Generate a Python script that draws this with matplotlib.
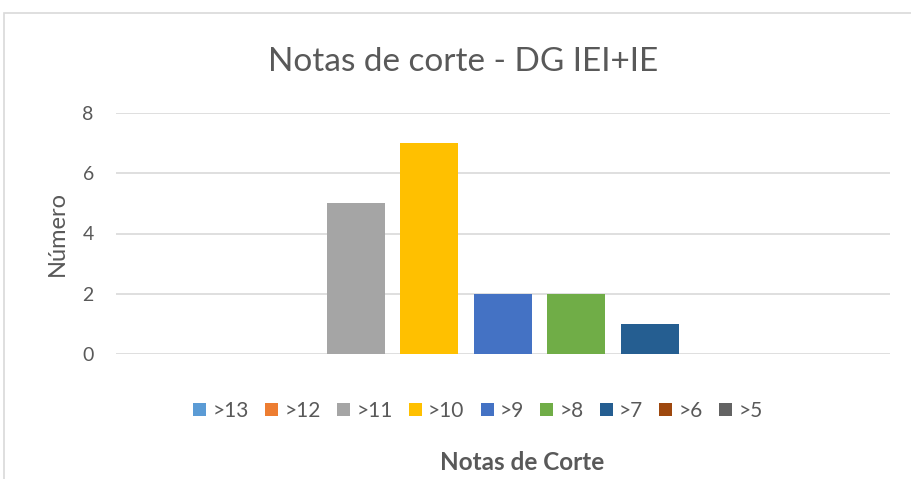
import matplotlib
matplotlib.use("Agg")
import matplotlib.pyplot as plt
from matplotlib.patches import Rectangle

series = [">13", ">12", ">11", ">10", ">9", ">8", ">7", ">6", ">5"]
values = [0, 0, 5, 7, 2, 2, 1, 0, 0]
colors = ["#5B9BD5", "#ED7D31", "#A5A5A5", "#FFC000", "#4472C4",
          "#70AD47", "#255E91", "#9E480E", "#636363"]
yticks = [0, 2, 4, 6, 8]

plt.rcParams['font.family'] = ['Lato', 'DejaVu Sans']
TXT = "#595959"

W, H = 912, 479
fig = plt.figure(figsize=(W / 100, H / 100), dpi=100)

# chart border
fig.patches.append(Rectangle((4 / W, -0.1), 1.1, 1 - 13 / H + 0.1,
                             transform=fig.transFigure, fill=False,
                             edgecolor="#D9D9D9", linewidth=1.2))

ax = fig.add_axes([116 / W, 125 / H, 774 / W, 241 / H])
n = len(series)
half = 774 / 73.5 / 2
for i, (s, v, c) in enumerate(zip(series, values, colors)):
    ax.bar(i, v, width=58 / 73.5, color=c, label=s, zorder=3)

ax.set_xlim((n - 1) / 2 - half, (n - 1) / 2 + half)
ax.set_ylim(0, 8)
ax.set_yticks(yticks)
ax.set_xticks([])
ax.grid(axis="y", color="#D9D9D9", linewidth=1.2, zorder=0)
for sp in ax.spines.values():
    sp.set_visible(False)
ax.tick_params(axis="y", length=0, pad=16, labelsize=14, labelcolor=TXT)
ax.set_ylabel("Número", fontsize=17, color=TXT)
ax.yaxis.set_label_coords((68 - 116) / 774, 0.5)

fig.text(463 / W, 1 - 62 / H, "Notas de corte - DG IEI+IE", ha="center",
         va="center", fontsize=24, color=TXT)

leg = fig.legend(loc="center", bbox_to_anchor=(478 / W, 1 - 411 / H), ncol=n,
                 frameon=False, fontsize=15, handlelength=0.62,
                 handleheight=0.62, handletextpad=0.3, columnspacing=0.78,
                 labelcolor=TXT)

fig.text(522 / W, 1 - 462 / H, "Notas de Corte", ha="center", va="center",
         fontsize=17.5, fontweight="bold", color=TXT)

fig.savefig("out.png", dpi=100, facecolor="white")
